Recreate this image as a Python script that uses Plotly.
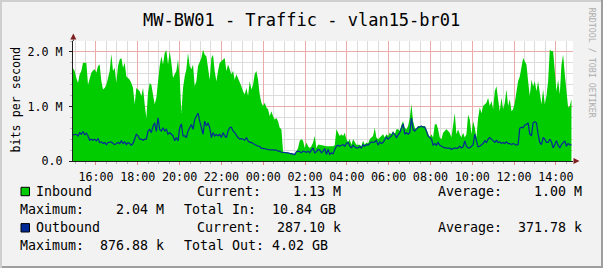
import pandas as pd
import plotly.graph_objects as go

# ---------------- data ----------------
title_text = "MW-BW01 - Traffic - vlan15-br01"
y_axis_title = "bits per second"
watermark_text = "RRDTOOL / TOBI OETIKER"

# Inbound traffic (Mbit/s), ~4.8 min apart
inbound_mbps = [
    1.70, 1.65, 1.52, 1.43, 1.59, 1.65, 1.80, 1.80, 1.80, 1.40,
    1.52, 1.62, 1.66, 1.68, 1.62, 1.74, 1.77, 1.46, 1.31, 1.34,
    1.40, 1.52, 1.65, 1.96, 1.65, 1.71, 1.43, 1.74, 1.86, 1.89,
    1.71, 1.80, 1.55, 1.52, 1.49, 1.43, 1.34, 1.04, 1.34, 1.31,
    1.28, 1.19, 1.34, 1.04, 0.79, 1.25, 1.43, 1.40, 1.19, 1.04,
    1.16, 1.46, 1.74, 1.92, 1.77, 1.98, 2.03, 1.77, 2.01, 1.80,
    1.52, 1.59, 1.65, 1.86, 1.52, 0.88, 1.34, 1.55, 1.68, 1.98,
    1.74, 1.68, 1.77,
    1.37, 1.46, 1.74, 1.80, 1.89, 2.04, 1.95, 1.92, 1.71, 1.49,
    1.89, 1.95, 1.65, 1.46, 1.65, 1.80, 1.83, 1.86, 1.89, 1.65,
    1.77, 1.68, 1.59, 1.65, 1.49, 1.59, 1.52, 1.46, 1.37, 1.28,
    1.22, 1.34, 1.19, 1.46, 1.31, 1.40, 1.59, 1.65, 1.49, 1.22,
    1.07, 1.01, 1.07, 0.98, 0.95, 0.82, 0.91, 0.82, 0.76, 0.79,
    0.73, 0.61, 0.58, 0.18, 0.15, 0.15, 0.15, 0.13, 0.15, 0.13,
    0.12, 0.18, 0.24, 0.37, 0.40, 0.37, 0.24, 0.34, 0.27, 0.24,
    0.27, 0.34, 0.46, 0.24, 0.30,
    0.30, 0.29, 0.29, 0.27, 0.27, 0.27, 0.27, 0.27, 0.27, 0.29,
    0.58, 0.52, 0.46, 0.49, 0.46, 0.52, 0.40, 0.35, 0.40, 0.30,
    0.40, 0.35, 0.30, 0.30, 0.30, 0.27, 0.37, 0.30, 0.34, 0.32,
    0.40, 0.43, 0.46, 0.61, 0.43, 0.40, 0.43, 0.46, 0.49, 0.43,
    0.49, 0.46, 0.52, 0.49, 0.55, 0.49, 0.58, 0.58, 0.55, 0.66,
    0.73, 0.61, 0.58, 0.64, 0.79, 1.04, 0.73, 0.61, 0.58, 0.64,
    0.64, 0.64, 0.64, 0.64, 0.58, 0.52, 0.43, 0.49, 0.43, 0.67,
    0.68, 0.58, 0.43, 0.40, 0.52,
    0.55, 0.58, 0.55, 0.52, 0.43, 0.64, 0.88, 0.49, 0.58, 0.49,
    0.43, 0.52, 0.43, 0.49, 0.85, 0.76, 0.49, 0.73, 0.61, 0.43,
    0.79, 0.98, 0.88, 1.01, 1.04, 1.07, 1.16, 1.01, 1.10, 0.95,
    1.28, 1.37, 1.13, 0.91, 1.16, 0.95, 1.07, 1.31, 1.01, 1.13,
    0.91, 0.95, 1.07, 1.28, 1.46, 1.55, 1.71, 1.89, 1.83, 1.77,
    1.46, 1.19, 1.49, 1.37, 1.46, 1.28, 1.46, 1.19, 1.04, 1.31,
    1.04, 1.19, 1.46, 2.04, 2.01, 2.01, 1.65, 1.28, 1.49, 1.22,
    1.77, 1.95, 1.59, 1.34, 0.98, 1.01, 1.13,
]

# Outbound traffic (Mbit/s), same sample times
outbound_mbps = [
    0.48, 0.49, 0.49, 0.46, 0.52, 0.49, 0.54, 0.48, 0.51, 0.46,
    0.38, 0.40, 0.38, 0.40, 0.37, 0.41, 0.34, 0.35, 0.32, 0.34,
    0.30, 0.34, 0.35, 0.35, 0.32, 0.30, 0.32, 0.34, 0.32, 0.37,
    0.32, 0.35, 0.30, 0.34, 0.32, 0.29, 0.32, 0.40, 0.49, 0.46,
    0.40, 0.40, 0.38, 0.40, 0.40, 0.55, 0.58, 0.52, 0.64, 0.70,
    0.54, 0.79, 0.58, 0.55, 0.61, 0.55, 0.58, 0.49, 0.52, 0.49,
    0.46, 0.37, 0.43, 0.37, 0.61, 0.68, 0.46, 0.46, 0.43, 0.55,
    0.61, 0.67, 0.58,
    0.76, 0.82, 0.88, 0.73, 0.61, 0.49, 0.73, 0.64, 0.70, 0.61,
    0.43, 0.52, 0.46, 0.49, 0.46, 0.49, 0.43, 0.52, 0.46, 0.43,
    0.55, 0.61, 0.62, 0.55, 0.52, 0.46, 0.43, 0.40, 0.41, 0.40,
    0.38, 0.43, 0.37, 0.34, 0.34, 0.32, 0.30, 0.29, 0.27, 0.27,
    0.23, 0.23, 0.23, 0.22, 0.21, 0.21, 0.21, 0.21, 0.20, 0.20,
    0.18, 0.18, 0.16, 0.16, 0.15, 0.15, 0.15, 0.14, 0.13, 0.13,
    0.12, 0.17, 0.18, 0.17, 0.15, 0.18, 0.17, 0.16, 0.18, 0.15,
    0.20, 0.24, 0.15, 0.17, 0.21,
    0.20, 0.15, 0.18, 0.23, 0.12, 0.21, 0.12, 0.15, 0.13, 0.21,
    0.27, 0.29, 0.27, 0.29, 0.30, 0.27, 0.32, 0.34, 0.27, 0.24,
    0.29, 0.26, 0.24, 0.24, 0.27, 0.24, 0.30, 0.27, 0.30, 0.29,
    0.32, 0.35, 0.34, 0.35, 0.38, 0.29, 0.35, 0.32, 0.34, 0.40,
    0.44, 0.40, 0.43, 0.46, 0.52, 0.49, 0.43, 0.48, 0.52, 0.60,
    0.68, 0.49, 0.52, 0.49, 0.52, 0.79, 0.58, 0.55, 0.58, 0.62,
    0.62, 0.64, 0.62, 0.62, 0.55, 0.46, 0.43, 0.40, 0.29, 0.32,
    0.29, 0.34, 0.29, 0.27, 0.26,
    0.24, 0.24, 0.23, 0.24, 0.21, 0.23, 0.24, 0.23, 0.24, 0.27,
    0.24, 0.26, 0.37, 0.27, 0.24, 0.24, 0.27, 0.30, 0.49, 0.37,
    0.26, 0.27, 0.30, 0.32, 0.37, 0.34, 0.40, 0.43, 0.40, 0.37,
    0.34, 0.38, 0.34, 0.35, 0.32, 0.34, 0.32, 0.35, 0.32, 0.32,
    0.30, 0.32, 0.30, 0.29, 0.30, 0.60, 0.62, 0.61, 0.66, 0.67,
    0.70, 0.49, 0.46, 0.70, 0.72, 0.70, 0.49, 0.34, 0.30, 0.43,
    0.40, 0.34, 0.34, 0.40, 0.35, 0.24, 0.30, 0.37, 0.29, 0.24,
    0.30, 0.34, 0.37, 0.27, 0.32, 0.30, 0.29,
]

first_sample = "2014-03-10 14:54:00"
last_sample = "2014-03-11 14:44:45"
view_start = "2014-03-10 14:54:00"
view_end = "2014-03-11 14:49:10"

y_tick_values = [0, 1_000_000, 2_000_000]
y_tick_labels = ["0.0", "1.0 M", "2.0 M"]

series_names = ["Inbound", "Outbound"]
series_colors = ["#00CC00", "#002A97"]
legend_current = ["Current:    1.13 M", "Current:  287.10 k"]
legend_average = ["Average:    1.00 M", "Average:  371.78 k"]
legend_maximum = ["Maximum:    2.04 M", "Maximum:  876.88 k"]
legend_total = ["Total In:  10.84 GB", "Total Out: 4.02 GB"]

# ---------------- figure ----------------
W, H = 603, 268
L, R, T, B = 73, 30, 41, 107
PW, PH = W - L - R, H - T - B
MONO = "DejaVu Sans Mono"


def px(x):
    return (x - L) / PW


def py(y):
    return (H - B - y) / PH


def keep_spaces(s):
    return s.replace(" ", "\u00a0")


times = pd.date_range(first_sample, last_sample, periods=len(inbound_mbps))
inbound_bps = [v * 1e6 for v in inbound_mbps]
outbound_bps = [v * 1e6 for v in outbound_mbps]

fig = go.Figure()
fig.add_trace(go.Scatter(
    x=times, y=inbound_bps, mode="lines", fill="tozeroy",
    fillcolor=series_colors[0], line=dict(width=0, color=series_colors[0]),
    name=series_names[0], hoverinfo="skip"))
fig.add_trace(go.Scatter(
    x=times, y=outbound_bps, mode="lines",
    line=dict(width=1.2, color=series_colors[1]),
    name=series_names[1], hoverinfo="skip"))

minor_grid = "#DCDCDC"
major_grid = "#ECABAB"

fig.update_layout(
    width=W, height=H,
    margin=dict(l=L, r=R, t=T, b=B, pad=0),
    paper_bgcolor="#F2F2F2",
    plot_bgcolor="#FFFFFF",
    showlegend=False,
    font=dict(family=MONO, color="#000000"),
    xaxis=dict(
        type="date", range=[view_start, view_end],
        tickformat="%H:%M", dtick=2 * 3600 * 1000, tick0="2014-03-10 00:00",
        showgrid=True, gridcolor=major_grid, gridwidth=1,
        minor=dict(dtick=30 * 60 * 1000, showgrid=True, gridcolor=minor_grid,
                   ticks="outside", ticklen=2, tickcolor="#BBBBBB"),
        ticks="outside", ticklen=3, tickcolor="#E08A8A",
        showline=True, linecolor="#1F1F1F", linewidth=1,
        zeroline=False, tickfont=dict(family=MONO, size=11.7, color="#000"),
        ticklabelstandoff=2,
    ),
    yaxis=dict(
        range=[0, 2_200_000], tickmode="array",
        tickvals=y_tick_values, ticktext=y_tick_labels,
        showgrid=True, gridcolor=major_grid, gridwidth=1,
        minor=dict(dtick=200_000, tick0=0, showgrid=True, gridcolor=minor_grid,
                   ticks="outside", ticklen=2, tickcolor="#BBBBBB"),
        ticks="outside", ticklen=3, tickcolor="#1F1F1F",
        showline=True, linecolor="#1F1F1F", linewidth=1,
        zeroline=False, tickfont=dict(family=MONO, size=11.7, color="#000"),
        ticklabelstandoff=4,
    ),
)

shapes = []
# frame shading
shapes.append(dict(type="rect", xref="paper", yref="paper", x0=px(0), x1=px(W), y0=py(0), y1=py(2),
                   fillcolor="#CFCFCF", line=dict(width=0), layer="above"))
shapes.append(dict(type="rect", xref="paper", yref="paper", x0=px(0), x1=px(2), y0=py(0), y1=py(H),
                   fillcolor="#CFCFCF", line=dict(width=0), layer="above"))
shapes.append(dict(type="rect", xref="paper", yref="paper", x0=px(W - 2), x1=px(W), y0=py(0), y1=py(H),
                   fillcolor="#9E9E9E", line=dict(width=0), layer="above"))
shapes.append(dict(type="rect", xref="paper", yref="paper", x0=px(2), x1=px(W), y0=py(H - 2), y1=py(H),
                   fillcolor="#9E9E9E", line=dict(width=0), layer="above"))
# axis arrows
arrow = "#7F1F1F"
shapes.append(dict(type="path", xref="paper", yref="paper",
                   path=f"M {px(73.3)},{py(33.5)} L {px(70.3)},{py(39.5)} L {px(76.3)},{py(39.5)} Z",
                   fillcolor=arrow, line=dict(width=0), layer="above"))
shapes.append(dict(type="line", xref="paper", yref="paper", x0=px(73.3), x1=px(73.3), y0=py(39.5), y1=py(41),
                   line=dict(color="#1F1F1F", width=1), layer="above"))
shapes.append(dict(type="path", xref="paper", yref="paper",
                   path=f"M {px(579.5)},{py(161)} L {px(573.5)},{py(158)} L {px(573.5)},{py(164)} Z",
                   fillcolor=arrow, line=dict(width=0), layer="above"))
# legend swatches
for i, yc in enumerate([191.5, 227.8]):
    shapes.append(dict(type="rect", xref="paper", yref="paper",
                       x0=px(21), x1=px(29.5), y0=py(yc - 4.2), y1=py(yc + 4.2),
                       fillcolor=series_colors[i], line=dict(color="#000000", width=1), layer="above"))
fig.update_layout(shapes=shapes)

ann = []


def text(x, y, s, size=13.3, xanchor="left", yanchor="middle", angle=0, color="#000000"):
    ann.append(dict(xref="paper", yref="paper", x=px(x), y=py(y), text=keep_spaces(s),
                    showarrow=False, xanchor=xanchor, yanchor=yanchor, textangle=angle,
                    borderpad=0, borderwidth=0,
                    font=dict(family=MONO, size=size, color=color)))


text(301.5, 20.5, title_text, size=17, xanchor="center")
text(15.5, 100, y_axis_title, size=11.7, xanchor="center", angle=-90)
text(592.7, 62.5, watermark_text, size=8.3, xanchor="center", angle=90, color="#ADADAD")

rows = [(191.5, 209.5), (227.5, 245.3)]
for i in range(2):
    y1, y2 = rows[i]
    text(36, y1, series_names[i])
    text(197, y1, legend_current[i])
    text(437.6, y1, legend_average[i])
    text(20, y2, legend_maximum[i])
    text(183.6, y2, legend_total[i])

fig.update_layout(annotations=ann)

fig.write_html("out.html", config={"displayModeBar": False})
